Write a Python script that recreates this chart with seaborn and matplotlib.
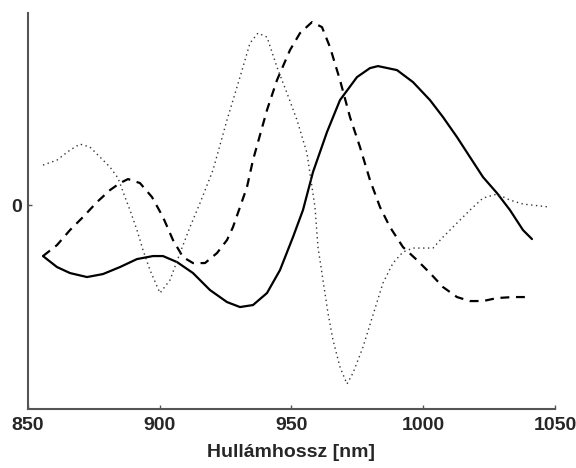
import numpy as np
import pandas as pd
import matplotlib
matplotlib.use("Agg")
import matplotlib.pyplot as plt
import seaborn as sns

# wavelength [nm] and signal (arbitrary units)
solid_x = [855.69, 861.01, 865.94, 872.39, 878.46, 884.91, 891.37, 897.44, 901.23,
           906.55, 912.62, 919.07, 925.52, 930.46, 935.39, 940.70, 945.64, 950.57,
           954.36, 958.16, 963.47, 968.41, 974.86, 979.79, 982.83, 990.04, 996.11,
           1002.56, 1007.50, 1012.81, 1017.74, 1022.68, 1027.99, 1032.92, 1037.86,
           1041.27]
solid_y = [-0.51, -0.62, -0.68, -0.72, -0.69, -0.62, -0.54, -0.51, -0.51,
           -0.57, -0.68, -0.85, -0.97, -1.02, -1.00, -0.88, -0.65, -0.32,
           -0.05, 0.33, 0.73, 1.05, 1.28, 1.37, 1.39, 1.35, 1.23,
           1.05, 0.88, 0.68, 0.48, 0.28, 0.12, -0.05, -0.25,
           -0.34]

dashed_x = [855.69, 861.01, 865.94, 870.87, 876.19, 881.12, 884.91, 887.95, 892.50,
            897.06, 901.23, 905.03, 908.82, 912.62, 917.17, 921.73, 925.52, 927.80,
            930.46, 933.11, 935.39, 940.70, 944.50, 949.43, 953.23, 957.78, 961.57,
            964.61, 968.41, 972.20, 976.00, 979.79, 983.59, 987.38, 992.31, 997.63,
            1002.56, 1007.50, 1012.81, 1017.74, 1022.68, 1027.99, 1034.06, 1039.75]
dashed_y = [-0.51, -0.40, -0.25, -0.12, 0.03, 0.15, 0.22, 0.26, 0.22,
            0.08, -0.12, -0.35, -0.52, -0.58, -0.58, -0.48, -0.35, -0.22,
            -0.02, 0.18, 0.45, 0.95, 1.25, 1.55, 1.72, 1.83, 1.78,
            1.58, 1.25, 0.88, 0.58, 0.25, -0.02, -0.22, -0.42, -0.55,
            -0.68, -0.82, -0.92, -0.96, -0.96, -0.93, -0.92, -0.92]

dotted_x = [855.69, 861.01, 865.94, 869.73, 873.53, 877.32, 881.12, 884.16, 886.81,
            888.71, 891.37, 893.64, 896.30, 900.09, 903.89, 907.69, 911.48, 915.28,
            920.21, 925.52, 930.46, 934.25, 937.29, 940.70, 944.50, 948.29, 952.09,
            955.88, 957.78, 958.92, 960.06, 961.95, 963.85, 965.75, 968.41, 971.06,
            973.34, 977.13, 980.93, 984.72, 988.52, 992.31, 996.11, 999.91, 1003.70,
            1007.50, 1012.81, 1017.74, 1022.68, 1027.99, 1032.92, 1037.86, 1041.27,
            1048.10]
dotted_y = [0.40, 0.45, 0.55, 0.61, 0.58, 0.48, 0.38, 0.27, 0.08,
            -0.05, -0.25, -0.45, -0.65, -0.88, -0.75, -0.48, -0.22, 0.02,
            0.35, 0.85, 1.28, 1.62, 1.72, 1.68, 1.38, 1.12, 0.85,
            0.52, 0.18, -0.02, -0.42, -0.75, -1.08, -1.35, -1.62, -1.79,
            -1.68, -1.42, -1.10, -0.78, -0.58, -0.47, -0.43, -0.43, -0.43,
            -0.32, -0.18, -0.05, 0.07, 0.11, 0.05, 0.01, 0.00,
            -0.02]

x_ticks = [850, 900, 950, 1000, 1050]
y_ticks = [0]
x_label = "Hullámhossz [nm]"

sns.set_style("ticks")
plt.rcParams['font.family'] = ['Liberation Sans', 'DejaVu Sans']

fig = plt.figure(figsize=(5.76, 4.68), dpi=100)
ax = fig.add_axes([0.0486, 0.126, 0.9149, 0.846])

sns.lineplot(x=solid_x, y=solid_y, ax=ax, color="black", linewidth=1.6,
             sort=False, estimator=None, solid_joinstyle="round")
sns.lineplot(x=dashed_x, y=dashed_y, ax=ax, color="black", linewidth=1.6,
             sort=False, estimator=None, linestyle=(0, (4, 3)),
             dash_joinstyle="round")
sns.lineplot(x=dotted_x, y=dotted_y, ax=ax, color="#333333", linewidth=1.0,
             sort=False, estimator=None, linestyle=(0, (1, 2.5)))

ax.set_xlim(850, 1050)
ax.set_ylim(-2.04, 1.92)
ax.set_xticks(x_ticks)
ax.set_yticks(y_ticks)
ax.set_xticklabels([str(t) for t in x_ticks], fontsize=14, fontweight="bold")
ax.set_yticklabels([str(t) for t in y_ticks], fontsize=14, fontweight="bold")
ax.set_xlabel(x_label, fontsize=14, fontweight="bold", labelpad=7)
ax.set_ylabel("")

sns.despine(ax=ax)
for side in ["left", "bottom"]:
    ax.spines[side].set_color("#555555")
    ax.spines[side].set_linewidth(1.5)
ax.tick_params(axis="both", direction="in", length=3, width=1, color="#555555")
ax.tick_params(axis="x", pad=6)
ax.tick_params(axis="y", pad=4)

fig.savefig("out.png", dpi=100)
